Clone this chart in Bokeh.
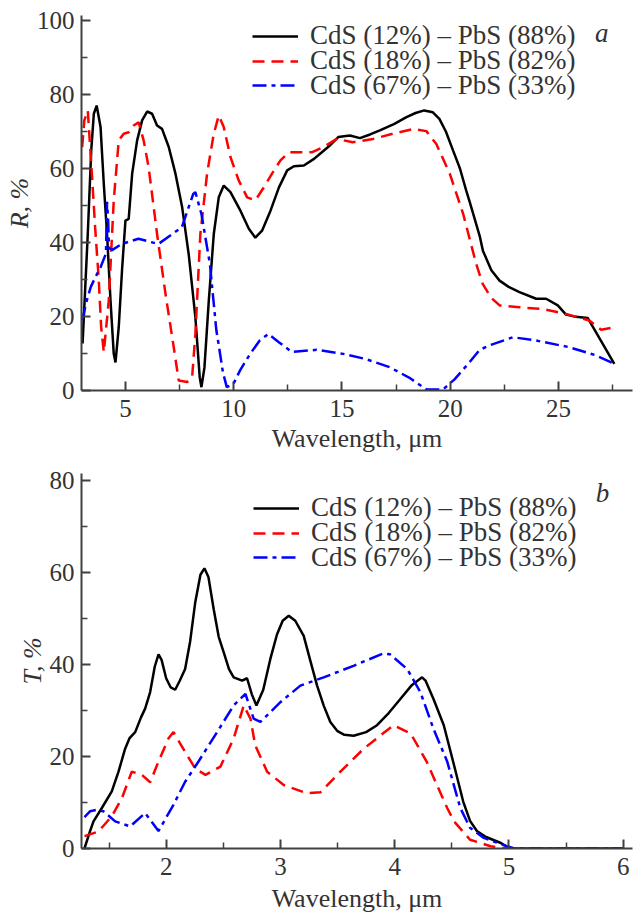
from bokeh.plotting import figure
from bokeh.layouts import column
from bokeh.models import FixedTicker, Legend, LegendItem, Label, Range1d
from bokeh.embed import file_html
from bokeh.resources import INLINE

# ---------------- data: panel a (reflection) ----------------
series_labels = ["CdS (12%) – PbS (88%)", "CdS (18%) – PbS (82%)", "CdS (67%) – PbS (33%)"]

a_black_x = [3.02, 3.26, 3.42, 3.54, 3.67, 3.85, 4.0, 4.15, 4.31, 4.46, 4.54, 4.69, 4.85, 5.0, 5.15,
             5.31, 5.54, 5.77, 6.0, 6.23, 6.46, 6.69, 7.0, 7.31, 7.62, 7.92, 8.23, 8.43, 8.51, 8.65,
             8.85, 9.08, 9.31, 9.54, 9.85, 10.31, 10.7, 11.0, 11.31, 11.7, 12.09, 12.47, 12.78, 13.24,
             13.71, 13.99, 14.4, 14.83, 15.37, 15.83, 16.3, 16.75, 17.4, 17.98, 18.4, 18.8, 19.2, 19.5,
             19.8, 20.13, 20.45, 20.74, 20.9, 21.36, 21.51, 21.9, 22.28, 22.7, 23.2, 23.97, 24.43,
             24.97, 25.35, 25.8, 26.35, 27.58]
a_black_y = [12.7, 42.3, 64.9, 74.8, 77.0, 71.2, 55.8, 42.3, 24.3, 9.9, 7.6, 17.1, 33.3, 45.9, 46.4,
             58.6, 67.6, 73.0, 75.4, 74.8, 71.6, 70.7, 65.8, 58.6, 49.5, 36.9, 19.8, 3.6, 0.9, 6.3,
             24.3, 42.3, 52.2, 55.4, 53.6, 48.6, 43.7, 41.3, 43.2, 48.6, 54.9, 59.5, 60.6, 60.8,
             62.6, 64.0, 66.0, 68.5, 68.9, 68.2, 69.2, 70.3, 72.0, 73.9, 75.0, 75.7, 75.2, 73.4,
             70.0, 64.9, 60.0, 54.0, 51.0, 41.8, 37.8, 32.5, 29.7, 28.0, 26.6, 24.8, 24.8,
             23.0, 20.5, 19.9, 19.6, 7.2]

a_red_x = [3.0, 3.1, 3.26, 3.45, 3.6, 3.76, 3.88, 4.0, 4.23, 4.46, 4.69, 4.92, 5.15, 5.38, 5.61,
           5.84, 6.07, 6.46, 6.85, 7.23, 7.46, 7.85, 8.08, 8.23, 8.46, 8.77, 9.08, 9.31, 9.54, 9.85,
           10.23, 10.62, 11.0, 11.39, 11.77, 12.16, 12.55, 13.09, 13.63, 14.2, 14.76, 15.5, 16.44,
           17.36, 18.3, 18.9, 19.36, 19.98, 20.6, 21.2, 21.5, 21.9, 22.28, 23.2, 24.27, 25.35,
           26.43, 26.97, 27.58]
a_red_y = [65.8, 73.0, 75.7, 58.5, 44.0, 30.6, 17.0, 10.4, 24.3, 51.4, 67.6, 69.4, 69.8, 71.6, 72.5,
           67.6, 60.4, 42.3, 26.1, 11.7, 2.7, 2.3, 3.6, 15.3, 42.3, 58.6, 69.4, 74.3, 71.2, 63.1,
           56.8, 52.2, 51.4, 54.9, 58.6, 62.2, 64.4, 64.4, 64.4, 66.0, 68.0, 67.1, 68.0,
           69.4, 70.7, 70.1, 66.6, 58.6, 47.7, 34.2, 28.8, 25.0, 23.0, 22.5, 22.0, 20.7,
           18.9, 16.4, 17.1]

a_blue_x = [3.0, 3.2, 3.4, 3.6, 3.85, 4.1, 4.15, 4.2, 4.24, 4.4, 4.83, 5.6, 6.52, 7.6, 8.13, 8.23,
            8.51, 8.9, 9.2, 9.3, 9.5, 9.68, 9.99, 10.3, 10.76, 11.2, 11.6, 12.1, 12.68, 13.83, 15.06,
            16.1, 17.2, 18.1, 18.9, 19.67, 20.2, 20.9, 21.36, 21.82, 22.9, 23.97, 25.5, 26.73, 27.58]
a_blue_y = [18.9, 24.0, 28.0, 30.5, 33.3, 37.0, 51.0, 46.0, 38.5, 38.0, 39.6, 41.0, 39.6, 44.1, 53.1, 53.6,
            47.7, 34.2, 16.2, 12.6, 5.0, 0.9, 1.8, 5.5, 9.9, 13.5, 15.3, 13.0, 10.4, 11.0, 9.9,
            8.5, 6.3, 3.5, 0.3, 0.3, 3.0, 7.7, 11.0, 12.2, 14.4, 13.5, 11.7, 9.5, 7.2]

a_xticks = [5, 10, 15, 20, 25]
a_xminor = [7.5, 12.5, 17.5, 22.5, 27.5]
a_yticks = [0, 20, 40, 60, 80, 100]
a_yminor = [10, 30, 50, 70, 90]

# ---------------- data: panel b (transmission) ----------------
b_black_x = [1.285, 1.33, 1.364, 1.437, 1.524, 1.583, 1.641, 1.68, 1.729, 1.78, 1.816, 1.86, 1.9, 1.933,
             1.96, 2.0, 2.04, 2.079, 2.12, 2.166, 2.21, 2.254, 2.3, 2.335, 2.37, 2.417, 2.46, 2.504,
             2.55, 2.591, 2.665, 2.708, 2.75, 2.79, 2.85, 2.912, 2.97, 3.02, 3.073, 3.13, 3.204, 3.26,
             3.321, 3.38, 3.437, 3.5, 3.56, 3.641, 3.75, 3.846, 3.95, 4.05, 4.15, 4.24, 4.27, 4.34,
             4.43, 4.52, 4.6, 4.66, 4.72, 4.8, 4.93, 5.01, 6.0]
b_black_y = [0.0, 3.5, 5.9, 8.8, 12.4, 16.7, 21.7, 24.0, 25.3, 28.5, 30.4, 34.0, 39.5, 42.2,
             41.0, 37.0, 35.0, 34.5, 36.5, 39.0, 45.0, 53.4, 59.5, 60.9, 59.0, 51.9, 46.0, 42.6,
             39.0, 37.2, 36.5, 37.0, 33.5, 31.1, 34.5, 41.2, 46.5, 49.5, 50.6, 49.5, 46.2, 41.0,
             35.4, 31.0, 27.5, 25.5, 24.7, 24.5, 25.3, 26.8, 29.5, 32.5, 35.5, 37.2, 36.5, 32.5,
             26.8, 18.1, 10.2, 6.0, 3.8, 2.5, 1.2, 0.0, 0.0]

b_red_x = [1.285, 1.408, 1.524, 1.612, 1.699, 1.787, 1.86, 1.933, 2.02, 2.064, 2.166, 2.254, 2.344,
           2.475, 2.591, 2.679, 2.738, 2.78, 2.884, 3.029, 3.233, 3.35, 3.525, 3.73, 3.99, 4.14,
           4.28, 4.37, 4.46, 4.52, 4.66, 4.84, 4.98, 6.0]
b_red_y = [2.7, 3.7, 7.0, 10.9, 16.7, 16.0, 14.4, 18.9, 23.9, 25.3, 21.0, 17.4, 16.0,
           17.8, 23.9, 31.1, 28.2, 22.4, 16.7, 13.8, 12.0, 12.2, 16.7, 21.7, 26.8, 25.0,
           18.9, 13.8, 8.8, 5.9, 1.9, 0.5, 0.0, 0.0]

b_blue_x = [1.285, 1.335, 1.393, 1.45, 1.554, 1.685, 1.816, 1.933, 2.064, 2.166, 2.283, 2.446, 2.591,
            2.694, 2.766, 2.825, 3.0, 3.175, 3.379, 3.64, 3.9, 3.96, 4.11, 4.225, 4.34, 4.46, 4.575,
            4.66, 4.78, 4.98, 5.05, 6.0]
b_blue_y = [6.8, 8.1, 8.4, 8.1, 5.9, 4.8, 7.7, 3.8, 9.5, 14.5, 18.9, 25.3, 31.1,
            33.6, 28.2, 27.5, 31.8, 35.4, 37.2, 39.7, 42.4, 42.2, 39.0, 34.0, 26.0, 18.9, 8.8,
            4.5, 2.3, 0.5, 0.0, 0.0]

b_xticks = [2, 3, 4, 5, 6]
b_xminor = [1.5, 2.5, 3.5, 4.5, 5.5]
b_yticks = [0, 20, 40, 60, 80]
b_yminor = [10, 30, 50, 70]

# ---------------- styling ----------------
FONT = "Liberation Serif"
TXT = "#333333"
AX = "#404040"
COLORS = ["#000000", "#ff0000", "#0000ff"]
DASHES = ["solid", "12 7", "14 5 4 5"]


def style_axis(ax, ticks, minor, standoff):
    ax.ticker = FixedTicker(ticks=ticks, minor_ticks=minor)
    ax.axis_line_color = AX
    ax.axis_line_width = 2
    ax.major_tick_line_color = AX
    ax.major_tick_line_width = 2
    ax.minor_tick_line_color = AX
    ax.minor_tick_line_width = 1.5
    ax.major_tick_in = 9
    ax.major_tick_out = 0
    ax.minor_tick_in = 6
    ax.minor_tick_out = 0
    ax.major_label_text_font = FONT
    ax.major_label_text_font_size = "25px"
    ax.major_label_text_color = TXT
    ax.major_label_standoff = standoff
    ax.axis_label_text_font = FONT
    ax.axis_label_text_font_size = "26px"
    ax.axis_label_text_color = TXT


def make_panel(height, xr, yr, top, bottom, xt, xm, yt, ym, ylabel, xs, ys, legend_vx,
               legend_vys, tag, tag_pos, xlabel_standoff):
    p = figure(width=637, height=height, x_range=Range1d(*xr), y_range=Range1d(*yr),
               output_backend="svg", toolbar_location=None,
               min_border_left=81, min_border_right=5, min_border_top=top,
               min_border_bottom=bottom)
    p.outline_line_color = None
    p.xgrid.visible = False
    p.ygrid.visible = False
    style_axis(p.xaxis[0], xt, xm, 9)
    style_axis(p.yaxis[0], yt, ym, 7)
    p.xaxis[0].axis_label = "Wavelength, μm"
    p.xaxis[0].axis_label_text_font_style = "normal"
    p.xaxis[0].axis_label_standoff = xlabel_standoff
    p.yaxis[0].axis_label = ylabel
    p.yaxis[0].axis_label_text_font_style = "italic"
    p.yaxis[0].axis_label_standoff = 0

    for i in range(3):
        r = p.line(xs[i], ys[i], line_color=COLORS[i], line_width=2.5, line_dash=DASHES[i])
        leg = Legend(items=[LegendItem(label=series_labels[i], renderers=[r])],
                     location=(legend_vx, legend_vys[i]), glyph_width=46, glyph_height=36,
                     label_height=36, label_standoff=12, spacing=0, padding=0, margin=0,
                     border_line_color=None, background_fill_alpha=0,
                     label_text_font=FONT, label_text_font_size="27px", label_text_color=TXT)
        p.add_layout(leg)
    p.add_layout(Label(x=tag_pos[0], y=tag_pos[1], text=tag, text_font=FONT,
                       text_font_style="italic", text_font_size="27px", text_color=TXT,
                       text_align="center", text_baseline="alphabetic"))
    return p


pa = make_panel(460, (2.97, 28.42), (0, 101.35), 15, 70, a_xticks, a_xminor, a_yticks, a_yminor,
                "R, %", [a_black_x, a_red_x, a_blue_x], [a_black_y, a_red_y, a_blue_y],
                171, [336.5, 311.5, 287], "a", (27.0, 96.5), 4)

pb = make_panel(455, (1.259, 6.082), (0, 81.5), 13, 64, b_xticks, b_xminor, b_yticks, b_yminor,
                "T, %", [b_black_x, b_red_x, b_blue_x], [b_black_y, b_red_y, b_blue_y],
                172, [322.3, 297.5, 273], "b", (5.82, 77.2), 6)

layout = column(pa, pb, spacing=0)
open("out.html", "w").write(file_html(layout, INLINE))
